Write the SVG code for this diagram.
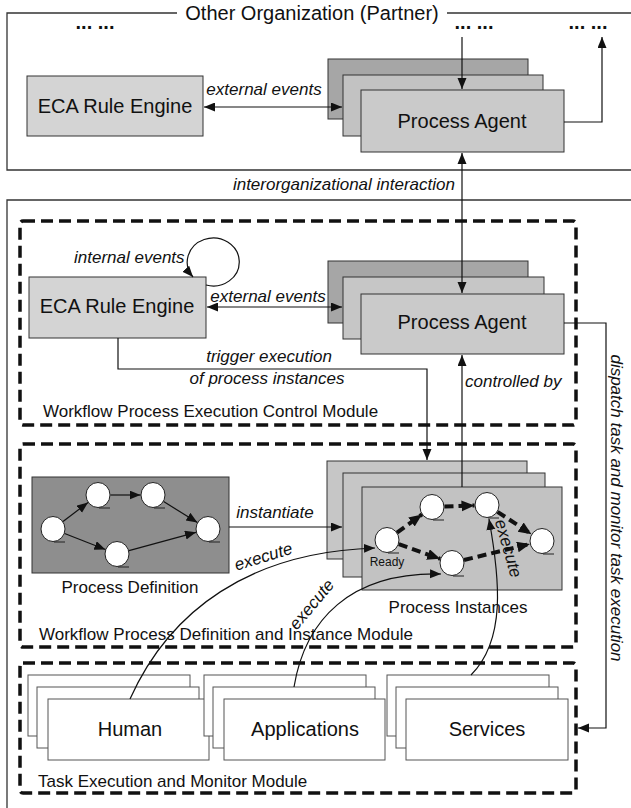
<svg xmlns="http://www.w3.org/2000/svg" width="631" height="808" viewBox="0 0 631 808">
<defs>
<style>
text{font-family:"Liberation Sans",Arial,sans-serif;fill:#111}
.big{font-size:20px}
.lbl{font-size:17px}
.it{font-size:17px;font-style:italic}
.frame{fill:none;stroke:#333;stroke-width:1.3}
.mod{fill:none;stroke:#111;stroke-width:3.5;stroke-dasharray:12 6}
.box{stroke:#333;stroke-width:1}
.task{fill:#fff;stroke:#555;stroke-width:1}
.ln{fill:none;stroke:#111;stroke-width:1.2}
.dl{fill:none;stroke:#111;stroke-width:4;stroke-dasharray:9 5}
.nd{fill:#fff;stroke:#222;stroke-width:1}
.ul{stroke:#222;stroke-width:1}
</style>
<marker id="ah" markerUnits="userSpaceOnUse" markerWidth="12" markerHeight="10" refX="11" refY="4.5" orient="auto">
<path d="M0,0 L11,4.5 L0,9 z" fill="#111" stroke="none"/>
</marker>
<marker id="as" markerUnits="userSpaceOnUse" markerWidth="12" markerHeight="10" refX="1" refY="4.5" orient="auto">
<path d="M12,0 L1,4.5 L12,9 z" fill="#111" stroke="none"/>
</marker>
<marker id="ab" markerUnits="userSpaceOnUse" markerWidth="14" markerHeight="12" refX="13" refY="5.5" orient="auto">
<path d="M0,0 L13,5.5 L0,11 z" fill="#111" stroke="none"/>
</marker>
</defs>
<rect width="631" height="808" fill="#fff"/>

<g id="partner-frame">
<path class="frame" d="M177,13 H7 V170 H631 M447,13 H631"/>
<text class="big" x="312" y="20" text-anchor="middle" font-size="19">Other Organization (Partner)</text>
<text x="95" y="29" text-anchor="middle" font-size="20" font-weight="bold">... ...</text>
<text x="474" y="29" text-anchor="middle" font-size="20" font-weight="bold">... ...</text>
<text x="588" y="29" text-anchor="middle" font-size="20" font-weight="bold">... ...</text>
</g>

<g id="partner-eca">
<rect class="box" x="27" y="76" width="176" height="60" fill="#d4d4d4"/>
<text class="big" x="115" y="113" text-anchor="middle">ECA Rule Engine</text>
</g>

<g id="partner-agent">
<rect class="box" x="328" y="59" width="200" height="60" fill="#a6a6a6"/>
<rect class="box" x="343" y="75" width="200" height="61" fill="#c2c2c2"/>
<rect class="box" x="361" y="90" width="203" height="62" fill="#cacaca"/>
<text class="big" x="462" y="128" text-anchor="middle">Process Agent</text>
</g>

<g id="local-frame">
<path class="frame" d="M631,200 H7 V808"/>
</g>

<g id="module-control">
<rect class="mod" x="20" y="221" width="556" height="204" rx="3"/>
<text class="lbl" x="43" y="417">Workflow Process Execution Control Module</text>
</g>

<g id="eca">
<rect class="box" x="29" y="277" width="177" height="61" fill="#d4d4d4"/>
<text class="big" x="117" y="313" text-anchor="middle">ECA Rule Engine</text>
</g>

<g id="agent">
<rect class="box" x="328" y="261" width="200" height="62" fill="#a6a6a6"/>
<rect class="box" x="343" y="277" width="201" height="62" fill="#c6c6c6"/>
<rect class="box" x="361" y="294" width="203" height="60" fill="#cacaca"/>
<text class="big" x="462" y="329" text-anchor="middle">Process Agent</text>
</g>

<g id="module-definition">
<rect class="mod" x="20" y="444" width="556" height="203" rx="3"/>
<text class="lbl" x="39" y="640">Workflow Process Definition and Instance Module</text>
</g>

<g id="process-definition">
<rect class="box" x="32" y="477" width="197" height="96" fill="#8e8e8e"/>
<ellipse class="nd" cx="53" cy="529" rx="12" ry="12.5"/>
<ellipse class="nd" cx="98" cy="495" rx="12" ry="12.5"/>
<ellipse class="nd" cx="153" cy="495" rx="12" ry="12.5"/>
<ellipse class="nd" cx="208" cy="529" rx="12" ry="12.5"/>
<ellipse class="nd" cx="117" cy="554" rx="12" ry="12.5"/>
<path class="ul" d="M54,542 H65 M99,508 H110 M154,508 H165 M209,542 H220 M118,567 H129"/>
<path class="ln" marker-end="url(#ah)" d="M63,521.5 L88,502.5"/>
<path class="ln" marker-end="url(#ah)" d="M110.5,495 L140.5,495"/>
<path class="ln" marker-end="url(#ah)" d="M163.6,501.6 L197.4,522.4"/>
<path class="ln" marker-end="url(#ah)" d="M64.6,533.5 L105.4,549.5"/>
<path class="ln" marker-end="url(#ah)" d="M129,550.7 L196,532.3"/>
<text class="lbl" x="130" y="593" text-anchor="middle">Process Definition</text>
</g>

<g id="process-instances">
<rect class="box" x="327" y="461" width="200" height="98" fill="#c6c6c6"/>
<rect class="box" x="343" y="473" width="202" height="104" fill="#c6c6c6"/>
<rect class="box" x="362" y="487" width="200" height="103" fill="#c2c2c2"/>
<ellipse class="nd" cx="387" cy="540" rx="12" ry="12.5" fill="none"/>
<ellipse class="nd" cx="432" cy="507" rx="12" ry="12.5"/>
<ellipse class="nd" cx="487" cy="505" rx="12" ry="12.5"/>
<ellipse class="nd" cx="542" cy="541" rx="12" ry="12.5"/>
<ellipse class="nd" cx="452" cy="563" rx="12" ry="12.5"/>
<path class="ul" d="M388,553 H399 M433,520 H444 M488,518 H499 M543,554 H554 M453,576 H464"/>
<text x="387" y="566" text-anchor="middle" font-size="12">Ready</text>
<path class="dl" marker-end="url(#ab)" d="M397,532.6 L422,514.4"/>
<path class="dl" marker-end="url(#ab)" d="M444.5,506.5 L474.5,505.5"/>
<path class="dl" marker-end="url(#ab)" d="M497.5,511.8 L531.5,534.2"/>
<path class="dl" marker-end="url(#ab)" d="M398.8,544.2 L440.2,558.8"/>
<path class="dl" marker-end="url(#ab)" d="M464,560 L530,543.9"/>
<text class="lbl" x="458" y="613" text-anchor="middle">Process Instances</text>
</g>

<g id="module-task">
<rect class="mod" x="20" y="663" width="556" height="130" rx="3"/>
<text class="lbl" x="38" y="787">Task Execution and Monitor Module</text>
</g>

<g id="human">
<rect class="task" x="28" y="675" width="162" height="61"/>
<rect class="task" x="37" y="687" width="162" height="61"/>
<rect class="task" x="48" y="699" width="161" height="61"/>
<text class="big" x="130" y="736" text-anchor="middle">Human</text>
</g>

<g id="applications">
<rect class="task" x="204" y="675" width="162" height="61"/>
<rect class="task" x="213" y="687" width="162" height="61"/>
<rect class="task" x="224" y="699" width="161" height="61"/>
<text class="big" x="305" y="736" text-anchor="middle">Applications</text>
</g>

<g id="services">
<rect class="task" x="387" y="675" width="162" height="61"/>
<rect class="task" x="396" y="687" width="162" height="61"/>
<rect class="task" x="406" y="699" width="162" height="61"/>
<text class="big" x="487" y="736" text-anchor="middle">Services</text>
</g>

<g id="connectors">
<path class="ln" marker-start="url(#as)" marker-end="url(#ah)" d="M204,107 H342"/>
<text class="it" x="264" y="95" text-anchor="middle">external events</text>
<path class="ln" marker-end="url(#ah)" d="M462,37 V89"/>
<path class="ln" marker-end="url(#ah)" d="M564,122 H602 V37"/>
<path class="ln" marker-start="url(#as)" marker-end="url(#ah)" d="M462,153 V293"/>
<text class="it" x="455" y="190" text-anchor="end">interorganizational interaction</text>
<path class="ln" marker-end="url(#ah)" d="M206,285 A26,24 0 1 0 193,277"/>
<text class="it" x="74" y="263">internal events</text>
<path class="ln" marker-start="url(#as)" marker-end="url(#ah)" d="M207,307 H342"/>
<text class="it" x="268" y="302" text-anchor="middle">external events</text>
<path class="ln" marker-end="url(#ah)" d="M118,338 V369 H427 V460"/>
<text class="it" x="269" y="362" text-anchor="middle">trigger execution</text>
<text class="it" x="267" y="384" text-anchor="middle">of  process instances</text>
<path class="ln" marker-end="url(#ah)" d="M462,487 V355"/>
<text class="it" x="465" y="387">controlled by</text>
<path class="ln" marker-end="url(#ah)" d="M564,323 H606 V728 H578"/>
<text class="it" x="611" y="508" text-anchor="middle" transform="rotate(90 611 508)">dispatch task and monitor task execution</text>
<path class="ln" marker-end="url(#ah)" d="M229,527 H342"/>
<text class="it" x="275" y="518" text-anchor="middle">instantiate</text>
<path class="ln" marker-end="url(#ah)" d="M130,699 C170,610 250,552 375,548"/>
<text class="it" x="265" y="562" text-anchor="middle" transform="rotate(-17 265 562)">execute</text>
<path class="ln" marker-end="url(#ah)" d="M294,687 C305,620 350,572 441,574"/>
<text class="it" x="316" y="608" text-anchor="middle" transform="rotate(-50 316 608)">execute</text>
<path class="ln" marker-end="url(#ah)" d="M471,675 C506,640 500,580 489,519"/>
<text class="it" x="503" y="550" text-anchor="middle" transform="rotate(74 503 550)">execute</text>
</g>
</svg>
